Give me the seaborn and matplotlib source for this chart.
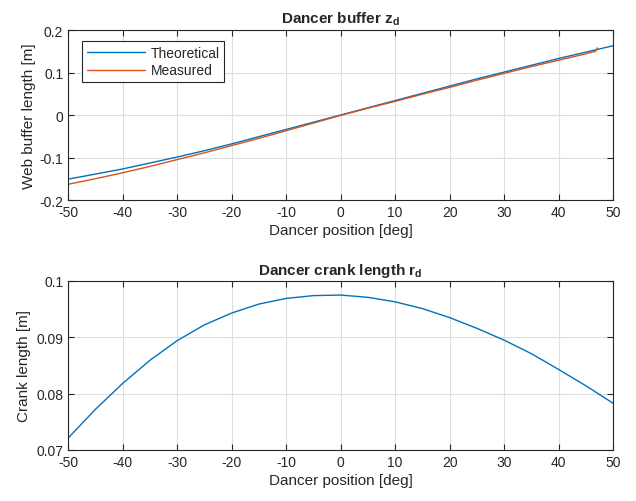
import numpy as np
import pandas as pd
import matplotlib
matplotlib.use("Agg")
import matplotlib.pyplot as plt
import seaborn as sns

# dancer angle [deg]
angle = [-50, -45, -40, -35, -30, -25, -20, -15, -10, -5, 0,
         5, 10, 15, 20, 25, 30, 35, 40, 45, 50]

# web buffer length, theoretical [m]
z_theory = [-0.151, -0.139, -0.127, -0.113, -0.099, -0.084, -0.068, -0.051, -0.034, -0.017, 0.0,
            0.017, 0.034, 0.051, 0.068, 0.085, 0.101, 0.117, 0.133, 0.148, 0.163]

# measured buffer (stops at ~47 deg)
angle_meas = [-50, -45, -40, -35, -30, -25, -20, -15, -10, -5, 0,
              5, 10, 15, 20, 25, 30, 35, 40, 45, 46.8, 47.1]
z_meas = [-0.163, -0.150, -0.136, -0.121, -0.105, -0.089, -0.072, -0.055, -0.037, -0.019, -0.001,
          0.016, 0.032, 0.049, 0.065, 0.082, 0.098, 0.114, 0.129, 0.144, 0.150, 0.158]

# crank length [m]
r_crank = [0.0721, 0.0772, 0.0818, 0.0859, 0.0894, 0.0922, 0.0943, 0.0959, 0.0969, 0.0974, 0.0975,
           0.0971, 0.0963, 0.0951, 0.0935, 0.0916, 0.0895, 0.0871, 0.0843, 0.0814, 0.0783]

blue = (0, 0.447, 0.741)
orange = (0.85, 0.325, 0.098)
axcol = (0.15, 0.15, 0.15)

sns.set_style("whitegrid")
plt.rcParams['font.family'] = ['Liberation Sans', 'DejaVu Sans']
plt.rcParams['mathtext.fontset'] = 'custom'
plt.rcParams['mathtext.rm'] = 'Liberation Sans'
plt.rcParams['mathtext.bf'] = 'Liberation Sans:bold'
plt.rcParams['axes.unicode_minus'] = False

fig = plt.figure(figsize=(6.36, 5.02), dpi=100)
ax1 = fig.add_axes([0.107, 0.5996, 0.857, 0.3386])
ax2 = fig.add_axes([0.107, 0.1016, 0.857, 0.3367])

df_t = pd.DataFrame({"angle": angle, "z": z_theory})
df_m = pd.DataFrame({"angle": angle_meas, "z": z_meas})
df_r = pd.DataFrame({"angle": angle, "r": r_crank})

sns.lineplot(data=df_t, x="angle", y="z", ax=ax1, color=blue, lw=1, label="Theoretical")
sns.lineplot(data=df_m, x="angle", y="z", ax=ax1, color=orange, lw=1, label="Measured")
sns.lineplot(data=df_r, x="angle", y="r", ax=ax2, color=blue, lw=1)

ax1.set_ylim(-0.2, 0.2)
ax1.set_yticks([-0.2, -0.1, 0, 0.1, 0.2])
ax1.set_yticklabels(["-0.2", "-0.1", "0", "0.1", "0.2"])
ax1.set_ylabel("Web buffer length [m]", fontsize=11, color=axcol, labelpad=2)
ax1.set_title(r"Dancer buffer $\mathbf{z_d}$", fontsize=11, fontweight="bold", pad=5)

ax2.set_ylim(0.07, 0.1)
ax2.set_yticks([0.07, 0.08, 0.09, 0.1])
ax2.set_yticklabels(["0.07", "0.08", "0.09", "0.1"])
ax2.set_ylabel("Crank length [m]", fontsize=11, color=axcol, labelpad=4)
ax2.set_title(r"Dancer crank length $\mathbf{r_d}$", fontsize=11, fontweight="bold", pad=5)

for ax in (ax1, ax2):
    ax.set_xlim(-50, 50)
    ax.set_xticks(range(-50, 51, 10))
    ax.set_xlabel("Dancer position [deg]", fontsize=11, color=axcol, labelpad=3)
    ax.grid(True, color=(0.87, 0.87, 0.87), lw=0.8)
    ax.tick_params(direction="in", length=4, width=0.8, labelsize=10, colors=axcol,
                   top=True, right=True, left=True, bottom=True)
    for s in ax.spines.values():
        s.set_visible(True)
        s.set_color(axcol)
        s.set_linewidth(0.8)

leg = ax1.legend(loc="upper left", bbox_to_anchor=(0.025, 0.935), fontsize=10, frameon=True,
                 fancybox=False, edgecolor=axcol, framealpha=1, handlelength=4.2,
                 borderpad=0.35, labelspacing=0.25, handletextpad=0.4, borderaxespad=0)
leg.get_frame().set_linewidth(0.8)

fig.savefig("out.png", dpi=100)
